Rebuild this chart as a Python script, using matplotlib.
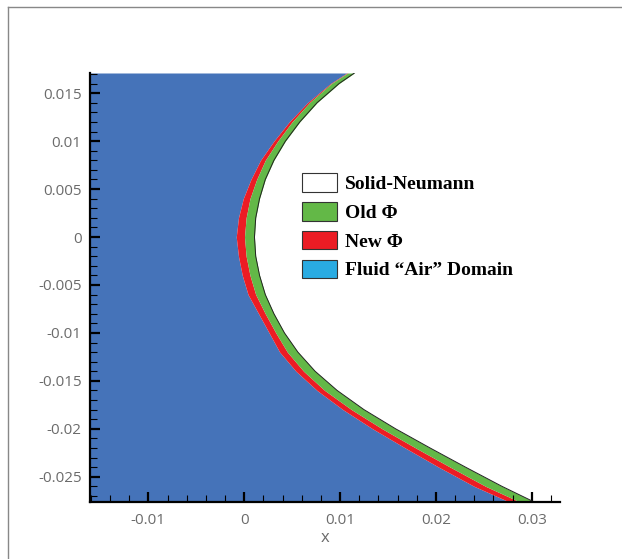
import numpy as np
import matplotlib.pyplot as plt
from matplotlib.patches import Patch
from matplotlib.lines import Line2D
from matplotlib.ticker import MultipleLocator

# boundary curves (x at each y level)
y_lev = [0.0171, 0.016, 0.014, 0.012, 0.010, 0.008, 0.006, 0.004, 0.002, 0.0,
         -0.002, -0.004, -0.006, -0.008, -0.010, -0.012, -0.014, -0.016,
         -0.018, -0.020, -0.022, -0.024, -0.026, -0.0276]
x_solid = [0.0115, 0.0099, 0.0076, 0.0058, 0.0043, 0.0031, 0.0022, 0.0016, 0.0012, 0.00107,
           0.0012, 0.0016, 0.0022, 0.0031, 0.0042, 0.0056, 0.0074, 0.0097,
           0.0125, 0.0158, 0.0194, 0.0231, 0.0269, 0.0302]      # solid edge
x_oldnew = [0.0108, 0.0091, 0.0068, 0.0050, 0.0035, 0.0022, 0.0013, 0.0006, 0.0002, 0.00003,
            0.0002, 0.0006, 0.0012, 0.0022, 0.0033, 0.0045, 0.0062, 0.0084,
            0.0112, 0.0144, 0.0179, 0.0215, 0.0252, 0.0287]     # old phi / new phi edge
x_fluid = [0.0107, 0.0090, 0.0066, 0.0047, 0.0031, 0.0017, 0.0007, -0.0001, -0.0006, -0.00083,
           -0.0006, -0.0002, 0.0004, 0.0015, 0.0026, 0.0037, 0.0054, 0.0076,
           0.0103, 0.0134, 0.0168, 0.0203, 0.0240, 0.0276]      # new phi / fluid edge

labels = ['Solid-Neumann', 'Old \u03a6', 'New \u03a6', 'Fluid \u201cAir\u201d Domain']
colors = ['white', '#63b847', '#ec1c24', '#29abe2']
blue = '#4573b9'

xmin, xmax = -0.01609, 0.03295
ymin, ymax = -0.02763, 0.0171

fig = plt.figure(figsize=(6.22, 5.59), dpi=100)
ax = fig.add_axes([90/622, 1-502/559, 470/622, 429/559])

y = np.array(y_lev)
ax.fill_betweenx(y, xmin, x_fluid, color=blue, lw=0)
ax.fill_betweenx(y, x_fluid, x_oldnew, color=colors[2], lw=0)
ax.fill_betweenx(y, x_oldnew, x_solid, color=colors[1], lw=0)
ax.plot(x_solid, y, color='#222222', lw=0.7)

ax.set_xlim(xmin, xmax)
ax.set_ylim(ymin, ymax)

for s in ['top', 'right']:
    ax.spines[s].set_visible(False)
for s in ['left', 'bottom']:
    ax.spines[s].set_linewidth(1.6)
    ax.spines[s].set_zorder(5)

ax.xaxis.set_major_locator(MultipleLocator(0.01))
ax.xaxis.set_minor_locator(MultipleLocator(0.002))
ax.yaxis.set_major_locator(MultipleLocator(0.005))
ax.yaxis.set_minor_locator(MultipleLocator(0.001))
ax.tick_params(which='major', direction='in', length=7.5, width=1.6,
               labelsize=11, labelcolor='#6b6b6b', pad=6)
ax.tick_params(axis='x', which='major', pad=8)
ax.tick_params(which='minor', direction='in', length=5, width=0.8)
fmt = plt.FuncFormatter(lambda v, p: f'{v:g}' if abs(v) > 1e-12 else '0')
ax.xaxis.set_major_formatter(fmt)
ax.yaxis.set_major_formatter(fmt)
for lab in ax.get_xticklabels() + ax.get_yticklabels():
    lab.set_family('Open Sans')
ax.set_xlabel('x', fontsize=12, color='#6b6b6b', family='Open Sans', labelpad=1)

handles = [Patch(facecolor=c, edgecolor='#333333', lw=0.8) for c in colors]
ax.legend(handles, labels, loc='upper left', bbox_to_anchor=(0.4336, 0.784),
          frameon=False, prop={'family': 'Liberation Serif', 'weight': 'bold', 'size': 14},
          handlelength=1.8, handleheight=1.1, labelspacing=0.45, handletextpad=0.45,
          borderaxespad=0)

# thin frame around the figure
fig.add_artist(Line2D([8/622, 1], [1-7/559, 1-7/559], color='#888888', lw=1))
fig.add_artist(Line2D([8/622, 8/622], [0, 1-7/559], color='#888888', lw=1))

fig.savefig('out.png', dpi=100)
